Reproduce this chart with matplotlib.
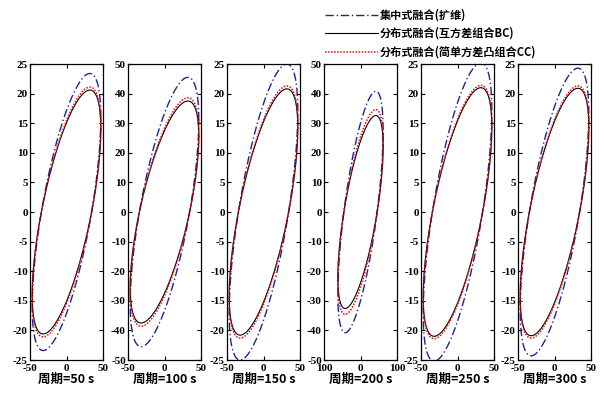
import numpy as np
import matplotlib
matplotlib.use("Agg")
import matplotlib.pyplot as plt
from matplotlib.lines import Line2D

# ---- data ----
panel_labels = ["周期=50 s", "周期=100 s", "周期=150 s", "周期=200 s", "周期=250 s", "周期=300 s"]
y_limits = [25, 50, 25, 50, 25, 25]
x_limits = [50, 50, 50, 100, 50, 50]
x_tick_labels = [["-50", "0", "50"], ["-50", "0", "50"], ["-50", "0", "50"],
                 ["100", "0", "100"], ["-50", "0", "50"], ["-50", "0", "50"]]
# half width of the ellipses along x, and x-position of the top of the ellipse
x_half = [47, 47, 47, 62, 47, 47]
peak_x = [32, 32, 32, 42, 32, 32]
# peak values (y half-height) of each estimator's ellipse
central_peak = [23.4, 45.5, 25.0, 40.8, 25.2, 24.3]   # 集中式融合(扩维)
bc_peak = [20.6, 37.5, 20.8, 32.6, 21.0, 20.9]         # 分布式融合 BC
cc_peak = [21.1, 38.6, 21.3, 34.6, 21.4, 21.3]         # 分布式融合 CC

legend_labels = ["集中式融合(扩维)", "分布式融合(互方差组合BC)", "分布式融合(简单方差凸组合CC)"]

# ---- figure ----
W, H = 604, 393
fig = plt.figure(figsize=(W / 100, H / 100), dpi=100)
fig.patch.set_facecolor("white")

lefts = [30, 128, 227, 324, 421, 518]
ax_w = 73
top_px, bot_px = 64, 360

cjk = ["Noto Sans CJK SC", "DejaVu Sans"]

blue = "#23238f"
t = np.linspace(0, 2 * np.pi, 400)

for i in range(6):
    ax = fig.add_axes([lefts[i] / W, 1 - bot_px / H, ax_w / W, (bot_px - top_px) / H])
    A = x_half[i]
    phi = np.arccos(peak_x[i] / A)
    x = A * np.cos(t)
    base = np.cos(t - phi)
    ax.plot(x, central_peak[i] * base, color=blue, lw=1.0, ls=(0, (6, 2, 1, 2)))
    ax.plot(x, bc_peak[i] * base, color="black", lw=0.8, ls="-")
    ax.plot(x, cc_peak[i] * base, color="#e01010", lw=1.1, ls=(0, (1, 1)))
    xl = x_limits[i]
    yl = y_limits[i]
    ax.set_xlim(-xl, xl)
    ax.set_ylim(-yl, yl)
    ax.set_xticks([-xl, 0, xl])
    ax.set_xticklabels(x_tick_labels[i])
    step = 5 if yl == 25 else 10
    ax.set_yticks(np.arange(-yl, yl + 0.1, step))
    ax.set_yticklabels([str(int(v)) for v in np.arange(-yl, yl + 0.1, step)])
    ax.tick_params(direction="in", length=3, width=0.8, top=True, right=True)
    ax.tick_params(axis="x", pad=3)
    ax.tick_params(axis="y", pad=1.5)
    for lab in ax.get_xticklabels() + ax.get_yticklabels():
        lab.set_fontfamily("Liberation Serif")
        lab.set_fontweight("bold")
        lab.set_fontsize(8)
    for s in ax.spines.values():
        s.set_linewidth(0.9)
    ax.set_xlabel(panel_labels[i], fontfamily=cjk, fontweight="bold", fontsize=9, labelpad=0)

# ---- legend (outside, top right) ----
styles = [dict(color=blue, lw=1.0, ls=(0, (6, 2, 1, 2))),
          dict(color="black", lw=0.8, ls="-"),
          dict(color="#e01010", lw=1.1, ls=(0, (1, 1)))]
rows = [15, 33, 52]
for lab, st, yp in zip(legend_labels, styles, rows):
    fig.add_artist(Line2D([325 / W, 378 / W], [1 - yp / H, 1 - yp / H], transform=fig.transFigure, **st))
    fig.text(380 / W, 1 - yp / H, lab, fontfamily=cjk, fontweight="bold", fontsize=8,
             va="center", ha="left")

fig.savefig("out.png", dpi=100, facecolor="white")
